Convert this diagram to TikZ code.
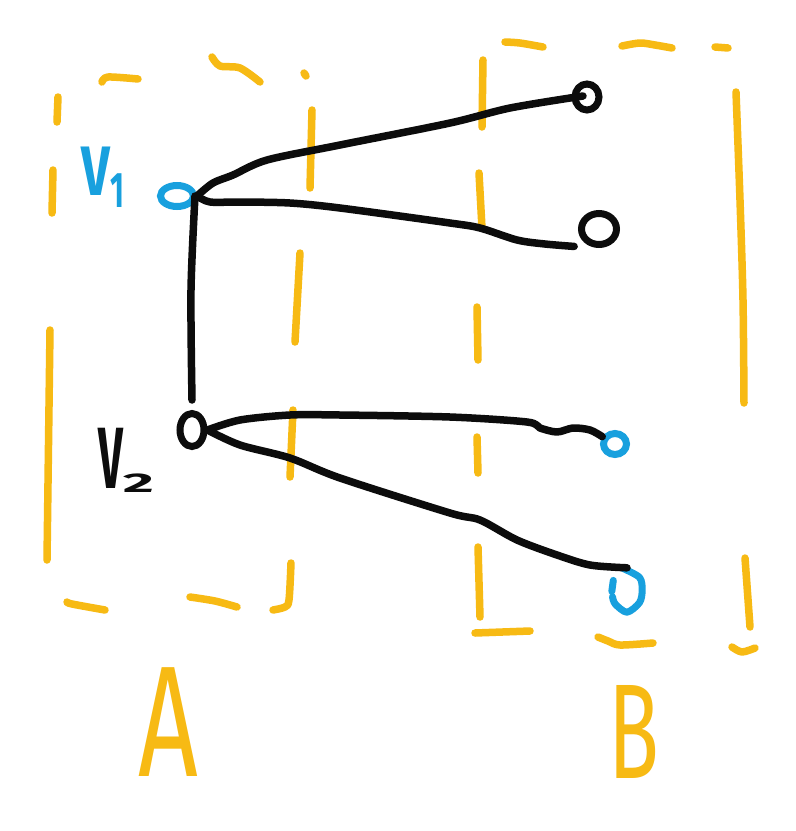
\documentclass[tikz,border=0pt]{standalone}
\usepackage{fontspec}
\newfontfamily\hand{Fira Sans}
\usetikzlibrary{shapes.geometric}
\definecolor{sketchorange}{RGB}{247,186,20}
\definecolor{sketchblue}{RGB}{24,160,222}
\definecolor{ink}{RGB}{12,12,12}
\begin{document}
\begin{tikzpicture}[x=1pt,y=-1pt,
  box/.style={draw=sketchorange,line width=7.5pt,line cap=round,line join=round},
  edge/.style={draw=ink,line width=7.5pt,line cap=round,line join=round},
  bluestroke/.style={draw=sketchblue,line width=7pt,line cap=round,line join=round},
  vblack/.style={ellipse,draw=ink,line width=7pt,inner sep=0pt},
  vblue/.style={ellipse,draw=sketchblue,line width=7pt,inner sep=0pt},
  hollow/.style={ellipse,inner sep=0pt},
  lab/.style={inner sep=0pt,font=\hand}]
\useasboundingbox[fill=white] (0,0) rectangle (796,831);

% ---- box A (dashed, hand drawn)
\draw[box] (58,97) -- (57,122);
\draw[box] (53,170) -- (52,213);
\draw[box] (50,330) -- (47,560);
\draw[box] plot[smooth] coordinates {(102,82) (108,77) (138,79)};
\draw[box] plot[smooth] coordinates {(212,57) (220,66) (240,68) (260,82)};
\draw[box] (304,73) -- (306,76);
\draw[box] (312,110) -- (310,188);
\draw[box] (300,253) -- (295,342);
\draw[box] (293,410) -- (290,477);
\draw[box] plot[smooth] coordinates {(291,563) (289,600) (285,607) (273,610)};
\draw[box] plot[smooth] coordinates {(67,602) (72,604) (105,610)};
\draw[box] plot[smooth] coordinates {(190,597) (215,601) (237,607)};

% ---- box B (dashed, hand drawn)
\draw[box] plot[smooth] coordinates {(505,42) (520,43) (543,47)};
\draw[box] plot[smooth] coordinates {(622,46) (640,43) (655,45) (672,48)};
\draw[box] (715,47) -- (728,48);
\draw[box] (483,60) -- (482,127);
\draw[box] (479,173) -- (482,228);
\draw[box] (477,307) -- (478,360);
\draw[box] (477,437) -- (478,473);
\draw[box] (478,547) -- (480,617);
\draw[box] (475,633) -- (530,631);
\draw[box] plot[smooth] coordinates {(736,92) (740,200) (743,300) (744,403)};
\draw[box] (745,558) -- (750,627);
\draw[box] plot[smooth] coordinates {(732,647) (742,652) (755,648)};
\draw[box] plot[smooth] coordinates {(598,637) (608,641) (620,645) (653,643)};

% ---- vertices
\node[vblue, minimum width=33pt, minimum height=21pt] (v1) at (177,196) {};
\node[vblack, minimum width=24pt, minimum height=33pt] (v2) at (192,430) {};
\node[vblack, minimum width=24pt, minimum height=26pt] (r1) at (587,97) {};
\node[vblack, minimum width=35pt, minimum height=31pt] (r2) at (599,229) {};
\node[vblue, minimum width=23pt, minimum height=21pt] (r3) at (615,444) {};
\node[hollow, minimum width=30pt, minimum height=44pt] (r4) at (627,590) {};
\draw[bluestroke] plot[smooth] coordinates {(r4.100) (r4.45) (r4.0) (r4.-45) (r4.-90) (r4.-130) (r4.-155)};
\draw[bluestroke] (r4.185) -- (r4.145);

% ---- labels
\node[lab, text=sketchblue] (v1lab) at (103,177)
  {\bfseries\fontsize{70}{70}\selectfont\scalebox{0.72}[1]{V}\raisebox{-12pt}{\fontsize{50}{50}\selectfont\scalebox{0.6}[1]{1}}};
\node[lab, text=ink] (v2lab) at (126,460)
  {\bfseries\fontsize{87}{87}\selectfont\scalebox{0.5}[1]{V}\raisebox{-4pt}{\fontsize{30}{30}\selectfont\scalebox{2.0}[0.9]{2}}};
\node[lab, text=sketchorange] (alab) at (168,722)
  {\fontsize{158}{158}\selectfont\scalebox{0.66}[1]{A}};
\node[lab, text=sketchorange] (blab) at (634,732)
  {\fontsize{135}{135}\selectfont\scalebox{0.62}[1]{B}};

% ---- edges
\draw[edge] plot[smooth] coordinates {(v1.east) (213,183) (233,175) (267,160) (340,145) (450,123) (510,108) (583,96)};
\draw[edge] plot[smooth] coordinates {(v1.east) (210,202) (240,202) (290,203) (340,208) (450,223) (480,228) (517,240) (545,244) ([shift={(-10pt,-4pt)}]r2.south west)};
\draw[edge] plot[smooth] coordinates {([xshift=-2pt]v1.east) (191,290) ([yshift=10pt]v2.north)};
\draw[edge] plot[smooth] coordinates {(v2.east) (240,420) (290,415) (340,415) (450,417) (527,422) (540,428) (557,432) (573,428) (590,430) (r3.150)};
\draw[edge] plot[smooth] coordinates {(v2.east) (240,445) (290,458) (340,478) (450,513) (480,520) (517,540) (557,555) (590,565) (r4.north)};
\end{tikzpicture}
\end{document}
